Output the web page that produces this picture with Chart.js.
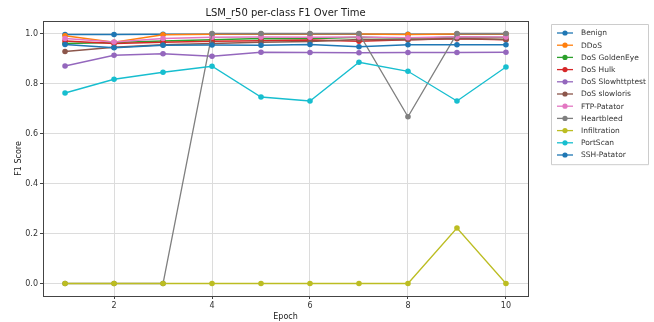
<!DOCTYPE html>
<html>
<head>
<meta charset="utf-8">
<script src="https://cdn.jsdelivr.net/npm/chart.js@4.4.1/dist/chart.umd.min.js"></script>
<style>
  html, body { margin: 0; padding: 0; background: #fff; }
  #wrap { width: 654px; height: 322px; }
</style>
</head>
<body>
<div id="wrap"><canvas id="myChart" width="654" height="322"></canvas></div>
<script>
const epochs = [1, 2, 3, 4, 5, 6, 7, 8, 9, 10];
const xTicks = [2, 4, 6, 8, 10];
const yTicks = [0, 0.2, 0.4, 0.6, 0.8, 1.0];

const classNames = [
    'Benign', 'DDoS', 'DoS GoldenEye', 'DoS Hulk', 'DoS Slowhttptest',
    'DoS slowloris', 'FTP-Patator', 'Heartbleed', 'Infiltration', 'PortScan', 'SSH-Patator'
];

const benign        = [0.996, 0.996, 0.997, 0.997, 0.997, 0.997, 0.997, 0.997, 0.997, 0.997];
const ddos          = [0.991, 0.965, 0.995, 0.997, 0.998, 0.998, 0.998, 0.996, 0.998, 0.998];
const goldenEye     = [0.960, 0.964, 0.970, 0.975, 0.980, 0.979, 0.985, 0.981, 0.985, 0.984];
const hulk          = [0.970, 0.960, 0.965, 0.969, 0.971, 0.974, 0.969, 0.975, 0.979, 0.975];
const slowhttptest  = [0.870, 0.913, 0.919, 0.909, 0.925, 0.924, 0.923, 0.924, 0.924, 0.925];
const slowloris     = [0.928, 0.945, 0.955, 0.960, 0.965, 0.968, 0.976, 0.975, 0.980, 0.976];
const ftpPatator    = [0.980, 0.966, 0.980, 0.985, 0.986, 0.985, 0.986, 0.983, 0.987, 0.986];
const heartbleed    = [0.0, 0.0, 0.0, 1.0, 1.0, 1.0, 1.0, 0.667, 1.0, 1.0];
const infiltration  = [0.0, 0.0, 0.0, 0.0, 0.0, 0.0, 0.0, 0.0, 0.222, 0.0];
const portScan      = [0.762, 0.817, 0.845, 0.869, 0.746, 0.730, 0.885, 0.849, 0.730, 0.866];
const sshPatator    = [0.956, 0.943, 0.953, 0.954, 0.953, 0.956, 0.947, 0.955, 0.955, 0.955];

const seriesValues = [benign, ddos, goldenEye, hulk, slowhttptest, slowloris,
    ftpPatator, heartbleed, infiltration, portScan, sshPatator];

// matplotlib tab10 cycle, wraps around for the 11th class
const colors = ['#1f77b4', '#ff7f0e', '#2ca02c', '#d62728', '#9467bd',
    '#8c564b', '#e377c2', '#7f7f7f', '#bcbd22', '#17becf', '#1f77b4'];

const FONT = 'DejaVu Sans, sans-serif';

const datasets = classNames.map(function (name, i) {
    return {
        label: name,
        data: epochs.map(function (e, j) { return { x: e, y: seriesValues[i][j] }; }),
        borderColor: colors[i],
        backgroundColor: colors[i],
        borderWidth: 1.3,
        pointRadius: 2.8,
        pointBorderWidth: 0,
        pointHoverRadius: 3,
        tension: 0,
        order: classNames.length - i
    };
});

// frame, titles and the legend box outside the axes
const decorations = {
    id: 'decorations',
    beforeDatasetsDraw(chart) {
        const a = chart.chartArea;
        const ctx = chart.ctx;
        ctx.save();
        ctx.strokeStyle = '#444';
        ctx.lineWidth = 1;
        ctx.strokeRect(Math.round(a.left) + 0.5, Math.round(a.top) + 0.5,
            Math.round(a.right - a.left), Math.round(a.bottom - a.top));
        ctx.restore();
    },
    afterDraw(chart) {
        const a = chart.chartArea;
        const ctx = chart.ctx;
        ctx.save();
        ctx.fillStyle = '#222';
        ctx.font = '10px ' + FONT;
        ctx.textAlign = 'center';
        ctx.textBaseline = 'alphabetic';
        ctx.fillText('LSM_r50 per-class F1 Over Time', (a.left + a.right) / 2, 16);

        // y axis label
        ctx.font = '8px ' + FONT;
        ctx.textBaseline = 'middle';
        ctx.translate(19, (a.top + a.bottom) / 2);
        ctx.rotate(-Math.PI / 2);
        ctx.fillText('F1 Score', 0, 0);
        ctx.setTransform(1, 0, 0, 1, 0, 0);

        // legend
        const bx = 551, by = 24, bw = 97, rowH = 12.2;
        const bh = rowH * classNames.length + 6;
        ctx.fillStyle = '#fff';
        ctx.strokeStyle = '#ccc';
        ctx.lineWidth = 1;
        ctx.beginPath();
        ctx.rect(bx + 0.5, by + 0.5, bw, bh);
        ctx.fill();
        ctx.stroke();
        ctx.font = '7.5px ' + FONT;
        ctx.textAlign = 'left';
        ctx.textBaseline = 'middle';
        classNames.forEach(function (name, i) {
            const y = by + 9 + i * rowH;
            ctx.strokeStyle = colors[i];
            ctx.lineWidth = 1.3;
            ctx.beginPath();
            ctx.moveTo(bx + 6, y);
            ctx.lineTo(bx + 22, y);
            ctx.stroke();
            ctx.fillStyle = colors[i];
            ctx.beginPath();
            ctx.arc(bx + 14, y, 2.6, 0, Math.PI * 2);
            ctx.fill();
            ctx.fillStyle = '#333';
            ctx.fillText(name, bx + 30, y + 0.5);
        });
        ctx.restore();
    }
};

const config = {
    type: 'line',
    data: { datasets: datasets },
    options: {
        responsive: false,
        animation: false,
        layout: { padding: { top: 21, right: 126, left: 0, bottom: 0 } },
        plugins: {
            legend: { display: false },
            title: { display: false },
            tooltip: { enabled: false }
        },
        scales: {
            x: {
                type: 'linear',
                min: 0.55,
                max: 10.45,
                afterBuildTicks: function (axis) {
                    axis.ticks = xTicks.map(function (v) { return { value: v }; });
                },
                afterFit: function (axis) { axis.height = 26; },
                grid: { color: '#dcdcdc', lineWidth: 1, drawTicks: true, tickLength: 3, tickColor: '#444' },
                border: { display: false },
                ticks: {
                    color: '#333',
                    font: { family: FONT, size: 8 },
                    padding: 2,
                    maxRotation: 0,
                    callback: function (v) { return String(v); }
                },
                title: {
                    display: true,
                    text: 'Epoch',
                    color: '#222',
                    font: { family: FONT, size: 8 },
                    padding: { top: 0, bottom: 0 }
                }
            },
            y: {
                min: -0.05,
                max: 1.05,
                afterBuildTicks: function (axis) {
                    axis.ticks = yTicks.map(function (v) { return { value: v }; });
                },
                afterFit: function (axis) { axis.width = 43; },
                grid: { color: '#dcdcdc', lineWidth: 1, drawTicks: true, tickLength: 3, tickColor: '#444' },
                border: { display: false },
                ticks: {
                    color: '#333',
                    font: { family: FONT, size: 8 },
                    padding: 2,
                    callback: function (v) { return Number(v).toFixed(1); }
                },
                title: { display: false }
            }
        }
    },
    plugins: [decorations]
};

const myChart = new Chart(document.getElementById('myChart'), config);
</script>
</body>
</html>
